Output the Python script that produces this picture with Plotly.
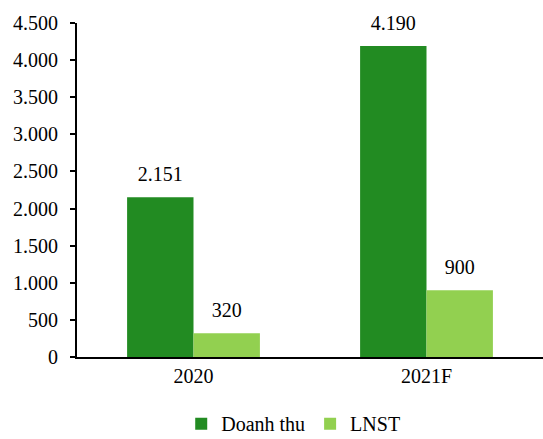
import plotly.graph_objects as go

categories = ["2020", "2021F"]
doanh_thu = [2151, 4190]
lnst = [320, 900]

FONT = "Liberation Serif, Times New Roman, serif"
fig = go.Figure()
for name, vals, color, grp in [("Doanh thu", doanh_thu, "#228B22", "a"),
                               ("LNST", lnst, "#92D050", "b")]:
    fig.add_trace(go.Bar(x=categories, y=vals, name=name, offsetgroup=grp,
                         marker=dict(color=color, line=dict(width=0))))
for vals, grp in [(doanh_thu, "a"), (lnst, "b")]:
    fig.add_trace(go.Scatter(x=categories, y=vals, offsetgroup=grp, mode="markers+text",
                             marker=dict(size=16, color="rgba(0,0,0,0)"),
                             texttemplate="%{y:,}", textposition="top center",
                             textfont=dict(size=20, color="black", family=FONT),
                             showlegend=False, hoverinfo="skip", cliponaxis=False))

fig.update_layout(
    width=543, height=439,
    margin=dict(l=77, r=0, t=23, b=82),
    paper_bgcolor="white", plot_bgcolor="white",
    font=dict(family=FONT, size=20, color="black"),
    separators=",.",
    barmode="group", bargap=0.43, bargroupgap=0,
    scattermode="group", scattergap=0.43,
    showlegend=True,
    legend=dict(orientation="h", xref="container", yref="container",
                x=0.54, y=0.035, xanchor="center", yanchor="middle",
                font=dict(size=20), traceorder="normal"),
    xaxis=dict(showline=True, linecolor="black", linewidth=2, ticks="",
               showgrid=False, tickfont=dict(size=20)),
    yaxis=dict(range=[0, 4500], dtick=500, tickformat=",", showline=True,
               linecolor="black", linewidth=2, ticks="outside", ticklen=5,
               tickwidth=2, tickcolor="black", showgrid=False, zeroline=False,
               tickfont=dict(size=20), ticklabelstandoff=8),
)
fig.write_html("out.html")
